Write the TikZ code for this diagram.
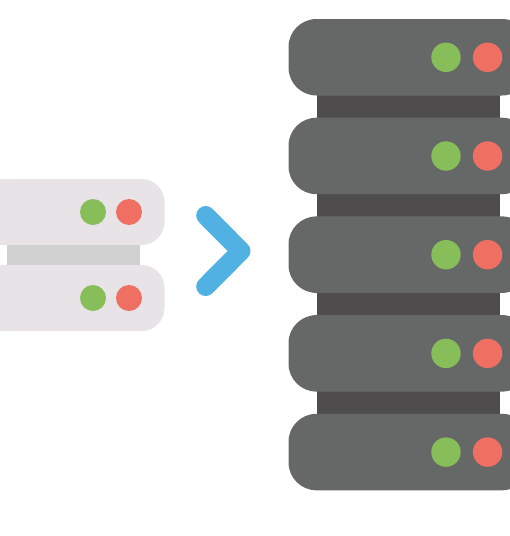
\documentclass[tikz,border=0pt]{standalone}
\definecolor{bigbody}{HTML}{666867}
\definecolor{bigjoin}{HTML}{4F4C4D}
\definecolor{smallbody}{HTML}{E7E3E6}
\definecolor{smalljoin}{HTML}{D1D1D1}
\definecolor{ledgreen}{HTML}{88BE5A}
\definecolor{ledred}{HTML}{EF6F62}
\definecolor{chevron}{HTML}{52B1E3}
\tikzset{
  bigunit/.style={fill=bigbody,rounded corners=28pt},
  smallunit/.style={fill=smallbody,rounded corners=23pt},
}
\begin{document}
\begin{tikzpicture}[x=1pt,y=-1pt]
\useasboundingbox (0,0) rectangle (510,536);
\clip (0,0) rectangle (510,536);
% small server
\fill[smalljoin] (6.5,240) rectangle (140,270);
\foreach \y in {179,265} {
  \fill[smallunit] (-20,\y) rectangle (164.5,\y+66);
  \fill[ledgreen] (93,\y+33) circle (13);
  \fill[ledred] (129,\y+33) circle (13);
}
% arrow
\draw[chevron,line width=19pt,line cap=round,line join=round] (205.7,215.5) -- (241,251) -- (205.7,286.5);
% big server
\fill[bigjoin] (317,90) rectangle (500,425);
\foreach \y in {19,117.7,216.4,315.1,413.8} {
  \fill[bigunit] (288.5,\y) rectangle (530,\y+76.5);
  \fill[ledgreen] (446,\y+38.3) circle (14.7);
  \fill[ledred] (487.6,\y+38.3) circle (14.7);
}
\end{tikzpicture}
\end{document}
